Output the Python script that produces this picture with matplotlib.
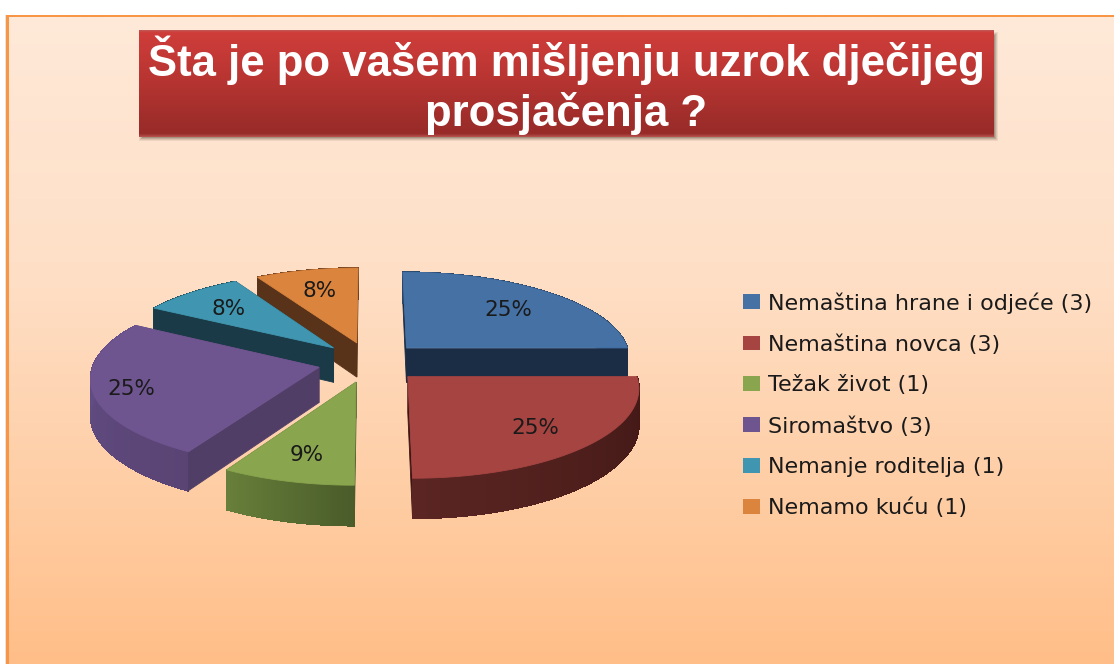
import numpy as np
import matplotlib
matplotlib.use("Agg")
import matplotlib.pyplot as plt
from matplotlib.colors import LinearSegmentedColormap, to_rgb
from matplotlib.patches import Patch, Rectangle

# ---- data ----
categories = ["Nemaština hrane i odjeće (3)", "Nemaština novca (3)", "Težak život (1)",
              "Siromaštvo (3)", "Nemanje roditelja (1)", "Nemamo kuću (1)"]
counts = [3, 3, 1, 3, 1, 1]
percent_labels = ["25%", "25%", "9%", "25%", "8%", "8%"]
title_text = "Šta je po vašem mišljenju uzrok dječijeg\nprosjačenja ?"

# ---- styles ----
top_colors = ["#4571A5", "#A64441", "#89A54E", "#6F5590", "#4096B0", "#DB843D"]
cut_colors = ["#1B2C45", "#3E1512", "#4A5C2A", "#503E66", "#1A3A47", "#58331A"]
rim_start = ["#2A4566", "#401715", "#4A5C2A", "#5A4474", "#1F4A58", "#6E4020"]
rim_end = ["#2A4566", "#5A2522", "#677F3A", "#64508A", "#1F4A58", "#6E4020"]
label_radius = [0.70, 0.73, 0.74, 0.83, 0.72, 0.73]
draw_order = [5, 4, 0, 3, 2, 1]

CX, CY, RX, RY = 370, 362, 225, 87
PERSP, EXPLODE, DEPTH = 0.11, 0.233, 35

W, H = 1114, 664
fig = plt.figure(figsize=(W / 100, H / 100), dpi=100, facecolor="white")
ax = fig.add_axes([0, 0, 1, 1])
ax.set_xlim(0, W)
ax.set_ylim(H, 0)
ax.axis("off")


def gradient(x0, x1, y0, y1, stops, z):
    cmap = LinearSegmentedColormap.from_list("g", stops)
    ax.imshow(np.linspace(0, 1, 256).reshape(-1, 1), cmap=cmap, aspect="auto",
              extent=(x0, x1, y1, y0), zorder=z, interpolation="bilinear")


# background panel
ax.add_patch(Rectangle((5, 15), W, H, fc="#E8E4E0", ec="none", zorder=0))
gradient(6, W, 15, H, ["#F79646", "#F79646"], 0.5)
gradient(9, W, 17, H, [(0, "#FFE9D8"), (0.4, "#FEDFC6"), (0.8, "#FFCA9E"), (1, "#FFBE88")], 1)

# title box with shadow
for i, a in enumerate([0.10, 0.14, 0.2, 0.26]):
    ax.add_patch(Rectangle((139 + i, 32 + i), 859 - 2 * i, 109 - 2 * i, fc="#605040", ec="none", alpha=a, zorder=2))
gradient(139, 994, 30, 137, [(0, "#C05A58"), (0.02, "#CF3D3A"), (0.4, "#BB3633"), (0.97, "#972B28"), (1, "#B85450")], 3)
ax.text(566, 85, title_text, color="white", fontsize=31.5, fontweight="bold", family="Liberation Sans",
        ha="center", va="center", linespacing=1.2, zorder=4)


def project(x, y, z=0.0):
    x, y = np.asarray(x, float), np.asarray(y, float)
    s = 1 / (1 - PERSP * y)
    return CX + RX * x * s, CY + RY * y * s + DEPTH * z * s


def face(xa, ya, color, z, aa=True):
    ax.fill(xa, ya, fc=color, ec=color, lw=0.6, zorder=z, antialiased=aa)


fractions = np.array(counts, float) / sum(counts)
edges = np.concatenate([[0], np.cumsum(fractions)]) * 2 * np.pi

for order, i in enumerate(draw_order):
    base = 10 + order
    a0, a1 = edges[i], edges[i + 1]
    mid = (a0 + a1) / 2
    ox, oy = EXPLODE * np.sin(mid), -EXPLODE * np.cos(mid)
    th = np.linspace(a0, a1, 61)
    ux, uy = ox + np.sin(th), oy - np.cos(th)
    tx, ty = project(ux, uy)
    bx, by = project(ux, uy, 1)
    ax0, ay0 = project(ox, oy)
    ax1, ay1 = project(ox, oy, 1)

    # a radial face looks at the viewer when its outward normal has a positive y
    faces_viewer = {0: -np.sin(a0) > 1e-6, -1: np.sin(a1) > 1e-6}
    for e, front in faces_viewer.items():
        if not front:
            face([ax0, tx[e], bx[e], ax1], [ay0, ty[e], by[e], ay1], cut_colors[i], base)

    # outer rim, shaded along the arc
    c0, c1 = np.array(to_rgb(rim_start[i])), np.array(to_rgb(rim_end[i]))
    for k in range(len(th) - 1):
        col = c0 + (c1 - c0) * k / (len(th) - 2)
        face([tx[k], tx[k + 1], bx[k + 1], bx[k]], [ty[k], ty[k + 1], by[k + 1], by[k]],
             tuple(col), base + 0.05, aa=False)

    for e, front in faces_viewer.items():
        if front:
            face([ax0, tx[e], bx[e], ax1], [ay0, ty[e], by[e], ay1], cut_colors[i], base + 0.1)

    # top surface
    face(np.r_[ax0, tx], np.r_[ay0, ty], top_colors[i], base + 0.2)

    # value label
    lx, ly = project(ox + label_radius[i] * np.sin(mid), oy - label_radius[i] * np.cos(mid))
    ax.text(lx, ly + 2, percent_labels[i], fontsize=15.5, color="#1A1A1A", ha="center", va="center", zorder=30)

handles = [Patch(fc=c, ec="none") for c in top_colors]
ax.legend(handles, categories, loc="upper left", bbox_to_anchor=(743, 292), bbox_transform=ax.transData,
          frameon=False, fontsize=16, handlelength=0.77, handleheight=0.63, handletextpad=0.36,
          labelspacing=0.93, borderpad=0, borderaxespad=0, labelcolor="#1A1A1A")

fig.savefig("out.png", dpi=100)
